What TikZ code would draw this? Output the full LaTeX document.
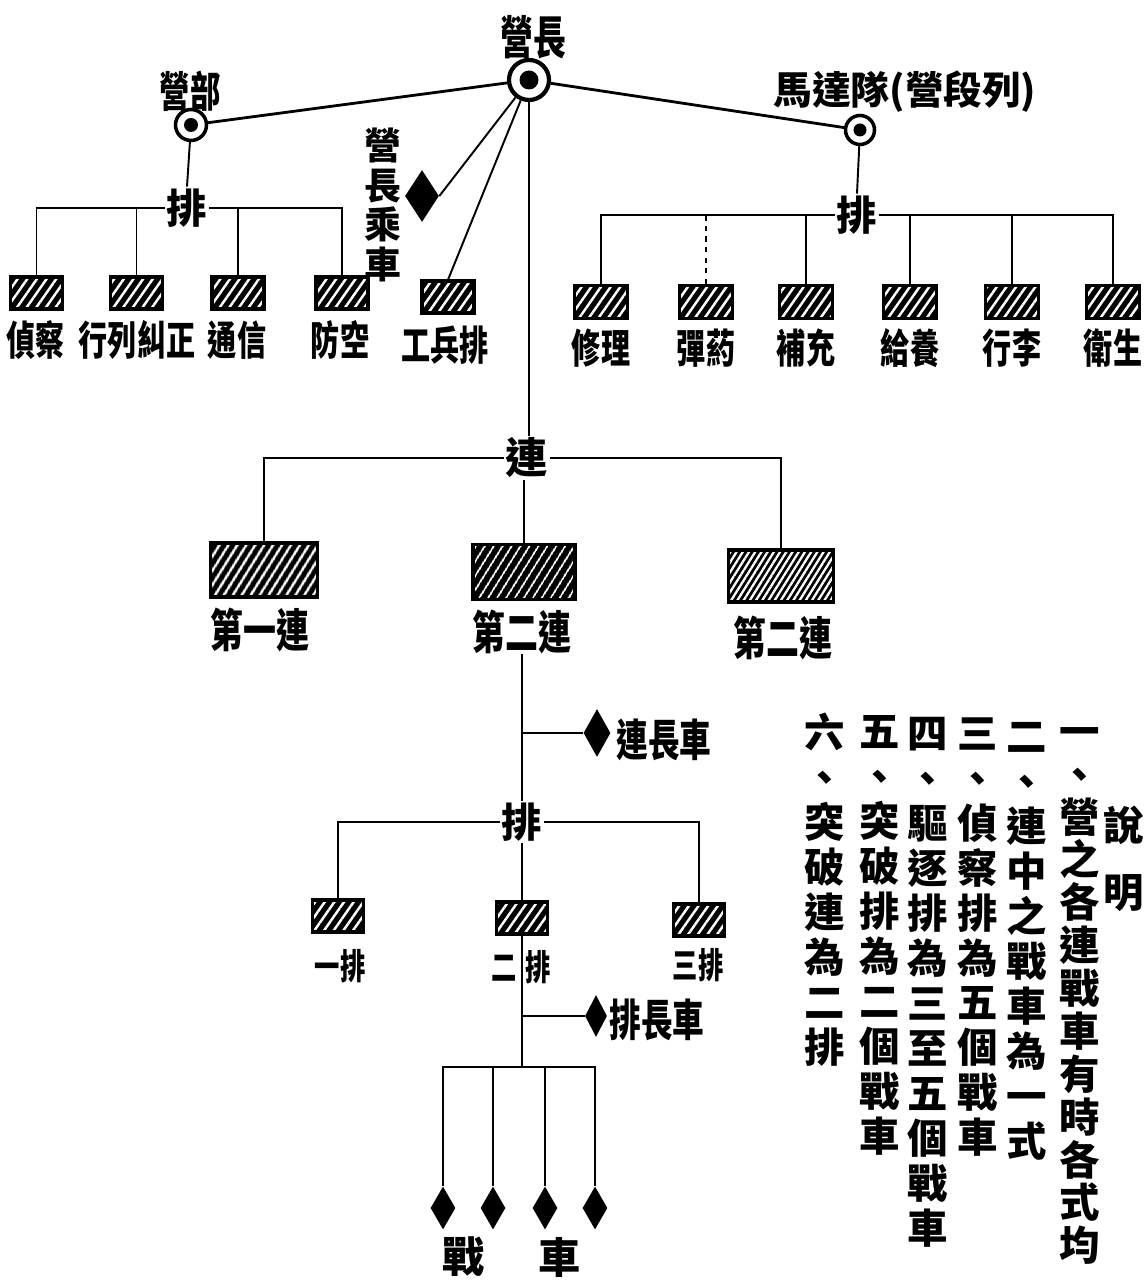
\documentclass[tikz,border=0pt]{standalone}
\usepackage{fontspec}
\usepackage{tikz}
\usetikzlibrary{shapes.geometric,patterns.meta}
\newfontfamily\cjk{Noto Sans CJK TC}
\newfontfamily\cjkn{Noto Sans CJK TC}[FakeStretch=0.72]

\begin{document}
\begin{tikzpicture}[x=1cm,y=1cm,
  ringbig/.style={circle,draw,fill=white,inner sep=0pt,line width=2.4pt,minimum size=0.80cm},
  ringsmall/.style={circle,draw,fill=white,inner sep=0pt,line width=2pt,minimum size=0.62cm},
  hatchbox/.style={draw,line width=1.8pt,inner sep=0pt,minimum width=1.04cm,minimum height=0.64cm,
    preaction={fill=black},pattern={Lines[angle=55,distance=4.5pt,line width=1.4pt]},pattern color=white},
  bigbox/.style={draw,line width=2pt,inner sep=0pt,minimum width=2.10cm,minimum height=1.08cm,
    preaction={fill=black},pattern color=white},
  tank/.style={diamond,fill=black,inner sep=0pt},
  boxlabel/.style={inner sep=0pt,font=\cjkn\bfseries\fontsize{23}{25}\selectfont},
  biglabel/.style={inner sep=0pt,font=\cjkn\bfseries\fontsize{26}{28}\selectfont},
  head/.style={inner sep=1pt,font=\cjk\bfseries\fontsize{23}{25}\selectfont},
  notecol/.style={anchor=north,align=center,inner sep=0pt,font=\cjk\bfseries\fontsize{23}{25.6}\selectfont},
  link/.style={line width=1.1pt},
  toplink/.style={line width=1.6pt}]
\path[use as bounding box] (0,0) rectangle (22.90,25.66);

% battalion head
\node[ringbig] (yz) at (10.58,24.06) {};
\fill (yz.center) circle (0.19);
\node[head,font=\cjkn\bfseries\fontsize{26}{28}\selectfont] (yzl) at (10.66,24.92) {營長};
\node[ringsmall] (yb) at (3.82,23.16) {};
\fill (yb.center) circle (0.14);
\node[head,font=\cjkn\bfseries\fontsize{24}{26}\selectfont] (ybl) at (3.80,23.84) {營部};
\node[ringsmall,minimum size=0.58cm] (md) at (17.20,23.06) {};
\fill (md.center) circle (0.13);
\node[head,font=\cjk\bfseries\fontsize{22}{24}\selectfont] (mdl) at (18.10,23.82) {馬達隊(營段列)};
\node[tank,minimum width=0.68cm,minimum height=1.04cm] (cz) at (8.44,21.74) {};
\node[head,align=center,font=\cjk\bfseries\fontsize{21}{22.5}\selectfont] (czl) at (7.66,21.56) {營\\長\\乘\\車};
\node[hatchbox] (gb) at (8.96,19.72) {};
\node[boxlabel] (gbl) at (8.90,18.76) {工兵排};
\draw[toplink] (yz) -- (yb);
\draw[toplink] (yz) -- (md);
\draw[link] (yz) -- (cz.east);
\draw[link] (yz) -- (gb.north);

% staff platoons
\node[head] (bp) at (3.74,21.50) {排};
\node[hatchbox] (bb1) at (0.73,19.80) {};
\node[hatchbox] (bb2) at (2.73,19.80) {};
\node[hatchbox] (bb3) at (4.76,19.80) {};
\node[hatchbox] (bb4) at (6.84,19.80) {};
\node[boxlabel] (bl1) at (0.72,18.86) {偵察};
\node[boxlabel] (bl2) at (2.74,18.86) {行列糾正};
\node[boxlabel] (bl3) at (4.74,18.86) {通信};
\node[boxlabel] (bl4) at (6.80,18.86) {防空};
\draw[link] (yb) -- (bp.north);
\draw[link] (bb1.north) |- (bp.west);
\draw[link] (bb4.north) |- (bp.east);
\draw[link] (bb2.north) -- (bb2.north |- bp.west);
\draw[link] (bb3.north) -- (bb3.north |- bp.west);

% motor train platoons
\node[head] (mp) at (17.14,21.36) {排};
\node[hatchbox,minimum width=1.06cm,minimum height=0.66cm] (mb1) at (12.02,19.62) {};
\node[hatchbox,minimum width=1.06cm,minimum height=0.66cm] (mb2) at (14.12,19.62) {};
\node[hatchbox,minimum width=1.06cm,minimum height=0.66cm] (mb3) at (16.12,19.62) {};
\node[hatchbox,minimum width=1.06cm,minimum height=0.66cm] (mb4) at (18.20,19.62) {};
\node[hatchbox,minimum width=1.06cm,minimum height=0.66cm] (mb5) at (20.24,19.62) {};
\node[hatchbox,minimum width=1.06cm,minimum height=0.66cm] (mb6) at (22.26,19.62) {};
\node[boxlabel] (ml1) at (12.02,18.70) {修理};
\node[boxlabel] (ml2) at (14.12,18.70) {彈葯};
\node[boxlabel] (ml3) at (16.12,18.70) {補充};
\node[boxlabel] (ml4) at (18.20,18.70) {給養};
\node[boxlabel] (ml5) at (20.24,18.70) {行李};
\node[boxlabel] (ml6) at (22.26,18.70) {衛生};
\draw[link] (md) -- (mp.north);
\draw[link] (mb1.north) |- (mp.west);
\draw[link] (mb6.north) |- (mp.east);
\draw[link,dashed] (mb2.north) -- (mb2.north |- mp.west);
\draw[link] (mb3.north) -- (mb3.north |- mp.west);
\draw[link] (mb4.north) -- (mb4.north |- mp.west);
\draw[link] (mb5.north) -- (mb5.north |- mp.west);

% companies
\node[head,font=\cjk\bfseries\fontsize{24}{26}\selectfont] (lian) at (10.54,16.50) {連};
\node[bigbox,minimum width=2.14cm,pattern={Lines[angle=58,distance=4pt,line width=1.5pt]}] (bx1) at (5.28,14.26) {};
\node[bigbox,minimum width=2.04cm,minimum height=1.10cm,pattern={Lines[angle=58,distance=4pt,line width=0.9pt]}] (bx2) at (10.48,14.22) {};
\node[bigbox,minimum height=1.04cm,pattern={Lines[angle=58,distance=3pt,line width=1.3pt]}] (bx3) at (15.62,14.14) {};
\node[biglabel] (bxl1) at (5.20,13.06) {第一連};
\node[biglabel] (bxl2) at (10.44,13.02) {第二連};
\node[biglabel] (bxl3) at (15.66,12.90) {第二連};
\draw[link] (yz.south) -- (yz.south |- lian.north);
\draw[link] (bx1.north) |- (lian.west);
\draw[link] (bx3.north) |- (lian.east);
\draw[link] (bx2.north |- lian.south) -- (bx2.north);

% platoons of a company
\node[tank,minimum width=0.54cm,minimum height=0.96cm] (lzc) at (11.94,11.00) {};
\node[biglabel,font=\cjkn\bfseries\fontsize{25}{27}\selectfont] (lzcl) at (13.28,10.86) {連長車};
\node[head] (pai) at (10.44,9.22) {排};
\node[hatchbox,minimum width=1.02cm] (pb1) at (6.76,7.34) {};
\node[hatchbox,minimum width=1.02cm] (pb2) at (10.44,7.30) {};
\node[hatchbox,minimum width=1.02cm] (pb3) at (13.98,7.26) {};
\node[boxlabel,font=\cjkn\bfseries\fontsize{20}{22}\selectfont] (pbl1) at (6.80,6.34) {一排};
\node[boxlabel,font=\cjkn\bfseries\fontsize{20}{22}\selectfont] (pbl2) at (10.42,6.32) {二\hspace{0.16cm}排};
\node[boxlabel,font=\cjkn\bfseries\fontsize{20}{22}\selectfont] (pbl3) at (13.96,6.36) {三排};
\coordinate (jl) at (bxl2.south |- lzc.west);
\draw[link] (bxl2.south) -- (pai.north);
\draw[link] (jl) -- (lzc.west);
\draw[link] (pb1.north) |- (pai.west);
\draw[link] (pb3.north) |- (pai.east);
\draw[link] (pai.south) -- (pb2.north);

% tanks of a platoon
\node[tank,minimum width=0.44cm,minimum height=0.84cm] (pzc) at (11.92,5.34) {};
\node[biglabel,font=\cjkn\bfseries\fontsize{25}{27}\selectfont] (pzcl) at (13.14,5.26) {排長車};
\coordinate (jz) at (10.44,4.32);
\coordinate (jp) at (pb2.south |- pzc.west);
\node[tank,minimum width=0.50cm,minimum height=0.86cm] (zc1) at (8.86,1.50) {};
\node[tank,minimum width=0.50cm,minimum height=0.86cm] (zc2) at (9.86,1.50) {};
\node[tank,minimum width=0.50cm,minimum height=0.86cm] (zc3) at (10.90,1.50) {};
\node[tank,minimum width=0.50cm,minimum height=0.86cm] (zc4) at (11.90,1.50) {};
\node[head,font=\cjk\bfseries\fontsize{24}{26}\selectfont] (zl1) at (9.28,0.52) {戰};
\node[head,font=\cjk\bfseries\fontsize{24}{26}\selectfont] (zl2) at (11.20,0.52) {車};
\draw[link] (pb2.south) -- (jz);
\draw[link] (jp) -- (pzc.west);
\draw[link] (zc1.north) |- (jz) -| (zc4.north);
\draw[link] (zc2.north) -- (zc2.north |- jz);
\draw[link] (zc3.north) -- (zc3.north |- jz);

% notes
\node[notecol] (n6) at (16.50,11.40) {六\\、\\突\\破\\連\\為\\二\\排};
\node[notecol] (n5) at (17.60,11.36) {五\\、\\突\\破\\排\\為\\二\\個\\戰\\車};
\node[notecol] (n4) at (18.56,11.32) {四\\、\\驅\\逐\\排\\為\\三\\至\\五\\個\\戰\\車};
\node[notecol] (n3) at (19.56,11.32) {三\\、\\偵\\察\\排\\為\\五\\個\\戰\\車};
\node[notecol] (n2) at (20.54,11.22) {二\\、\\連\\中\\之\\戰\\車\\為\\一\\式};
\node[notecol,font=\cjk\bfseries\fontsize{23}{24.4}\selectfont] (n1) at (21.60,11.12) {一\\、\\營\\之\\各\\連\\戰\\車\\有\\時\\各\\式\\均};
\node[notecol,anchor=center] (nt1) at (22.48,9.16) {說};
\node[notecol,anchor=center] (nt2) at (22.48,7.80) {明};
\end{tikzpicture}
\end{document}
